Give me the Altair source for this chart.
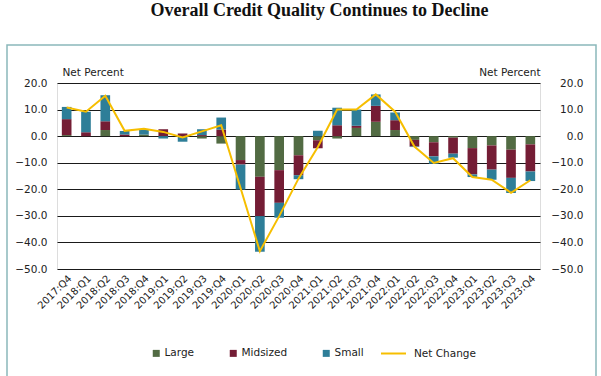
import altair as alt
import pandas as pd

quarters = ["2017:Q4", "2018:Q1", "2018:Q2", "2018:Q3", "2018:Q4", "2019:Q1", "2019:Q2",
            "2019:Q3", "2019:Q4", "2020:Q1", "2020:Q2", "2020:Q3", "2020:Q4", "2021:Q1",
            "2021:Q2", "2021:Q3", "2021:Q4", "2022:Q1", "2022:Q2", "2022:Q3", "2022:Q4",
            "2023:Q1", "2023:Q2", "2023:Q3", "2023:Q4"]
large = [0.4, 0.0, 2.3, 0.0, 0.6, 0.0, -0.3, -0.9, -2.8, -9.0, -15.3, -12.8, -7.2, -1.5,
         -0.9, 3.1, 5.4, 2.3, -1.4, -2.3, -0.6, -4.5, -3.5, -5.1, -3.1]
midsized = [6.0, 1.5, 3.3, 0.6, 0.0, 2.6, 1.0, 0.4, 2.5, -1.7, -14.8, -12.3, -7.5, -3.1,
            4.1, 0.8, 6.0, 3.7, -2.5, -5.3, -6.0, -9.9, -9.1, -10.6, -10.2]
small = [4.6, 7.7, 9.8, 1.3, 2.0, -0.9, -1.8, 2.2, 4.5, -9.4, -13.4, -5.6, -1.5, 2.0,
         6.6, 6.1, 4.3, 2.9, -0.2, -2.8, -1.5, -1.0, -3.8, -5.7, -3.6]
net_change = [10.8, 9.2, 15.2, 2.0, 2.8, 1.6, -0.5, 1.8, 4.1, -19.5, -43.3, -30.1, -16.0,
              -4.1, 10.0, 10.0, 15.7, 9.2, -3.9, -10.1, -8.3, -15.4, -16.4, -21.3, -16.6]
series_names = ["Large", "Midsized", "Small"]
series_colors = ["#526b43", "#741d35", "#2e7e98"]
line_color = "#f6be00"
y_ticks = [-50, -40, -30, -20, -10, 0, 10, 20]

rows = []
for i, q in enumerate(quarters):
    for k, (name, vals) in enumerate(zip(series_names, [large, midsized, small])):
        rows.append({"quarter": q, "series": name, "value": vals[i], "ord": k})
df = pd.DataFrame(rows)
df_line = pd.DataFrame({"quarter": quarters, "net": net_change, "label": "Net Change"})

FONT = "DejaVu Sans"
TXT = "#222222"

xenc = alt.X("quarter:N", sort=quarters,
             scale=alt.Scale(paddingInner=0.5, paddingOuter=0.25),
             axis=alt.Axis(title=None, labelAngle=-45, labelFontSize=10, labelFont=FONT,
                           labelColor=TXT, ticks=False, domain=False, grid=False,
                           labelPadding=4))
yscale = alt.Scale(domain=[-50, 20], nice=False, zero=False)

bars = alt.Chart(df).mark_bar().encode(
    x=xenc,
    y=alt.Y("value:Q", stack="zero", scale=yscale,
            axis=alt.Axis(orient="left", values=y_ticks, format=".1f", title="Net Percent",
                          titleAngle=0, titleAlign="left", titleX=5, titleY=-11,
                          titleBaseline="middle", titleFont=FONT, titleFontSize=10.5,
                          titleFontWeight="normal", titleColor=TXT,
                          labelFont=FONT, labelFontSize=10.5, labelColor=TXT,
                          ticks=False, domain=False, grid=True, gridColor="#1a1a1a",
                          gridWidth=1, labelPadding=10)),
    color=alt.Color("series:N",
                    scale=alt.Scale(domain=series_names, range=series_colors),
                    legend=alt.Legend(title=None, orient="none", legendX=94, legendY=265,
                                      direction="horizontal", columns=3, columnPadding=33,
                                      symbolType="square", symbolSize=49, symbolStrokeWidth=0,
                                      labelFont=FONT, labelFontSize=10.5, labelColor=TXT,
                                      labelOffset=3)),
    order=alt.Order("ord:Q"),
)

line = alt.Chart(df_line).mark_line(strokeWidth=2).encode(
    x=xenc,
    y=alt.Y("net:Q", scale=yscale,
            axis=alt.Axis(orient="right", values=y_ticks, format=".1f", title="Net Percent",
                          titleAngle=0, titleAlign="right", titleX=0, titleY=-11,
                          titleBaseline="middle", titleFont=FONT, titleFontSize=10.5,
                          titleFontWeight="normal", titleColor=TXT,
                          labelFont=FONT, labelFontSize=10.5, labelColor=TXT,
                          labelAlign="right", labelPadding=43,
                          ticks=False, domain=False, grid=False)),
    stroke=alt.Stroke("label:N", scale=alt.Scale(domain=["Net Change"], range=[line_color]),
                      legend=alt.Legend(title=None, orient="none", legendX=323, legendY=257,
                                        symbolType="stroke", symbolSize=625,
                                        symbolStrokeWidth=2, labelFont=FONT,
                                        labelFontSize=10.5, labelColor=TXT, labelOffset=7)),
)

frame = alt.Chart(pd.DataFrame({"a": [0]})).mark_rect(
    fill=None, stroke="#8ab8ba", strokeWidth=1.5
).encode(x=alt.value(-50), x2=alt.value(539), y=alt.value(-38), y2=alt.value(300))

chart = alt.layer(frame, bars, line).resolve_axis(y="independent").properties(
    width=483, height=186,
    autosize=alt.AutoSizeParams(type="none"),
    padding={"left": 57, "top": 83, "right": 61, "bottom": 107},
    title=alt.TitleParams("Overall Credit Quality Continues to Decline",
                          font="Liberation Serif", fontSize=18, fontWeight="bold",
                          color="#111111", anchor="middle", dx=21, offset=24),
).configure_view(stroke="#404040", strokeWidth=1.5).configure(background="white")

chart.save("out.html", embed_options={"renderer": "svg", "actions": False})
